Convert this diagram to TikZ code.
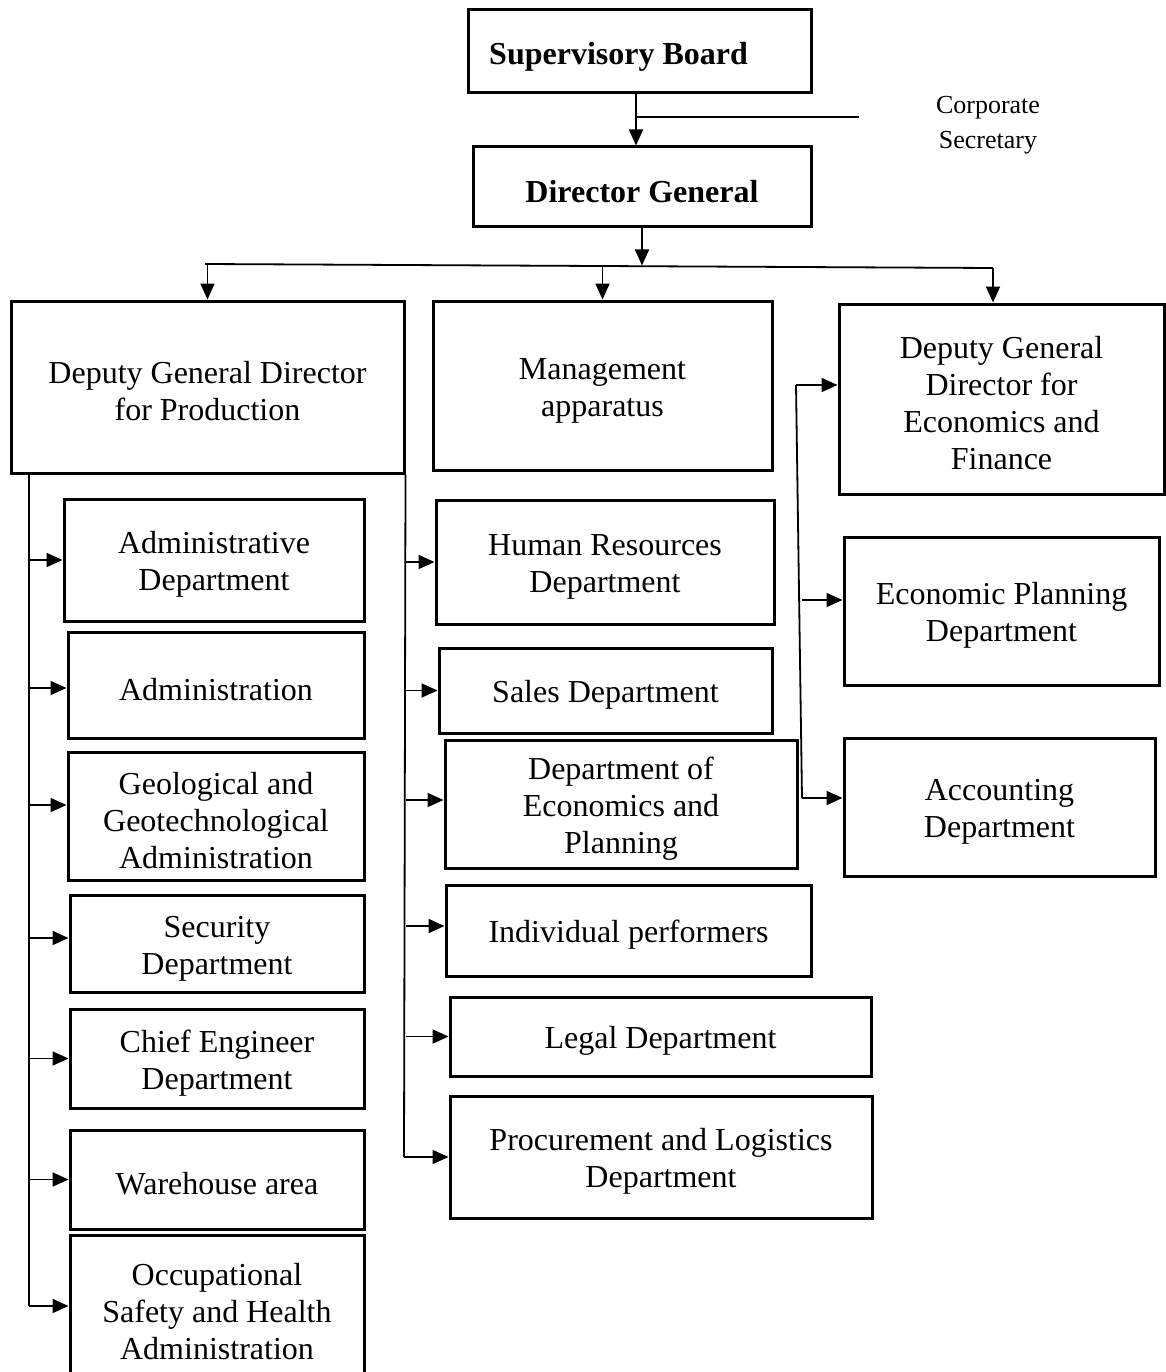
\documentclass[tikz,border=0pt]{standalone}
\usepackage{fontspec}
\setmainfont{Liberation Serif}
\usetikzlibrary{arrows.meta}
\newcommand{\fl}{\rule{0pt}{31pt}}
\begin{document}
\begin{tikzpicture}[x=1pt,y=-1pt,
  box/.style={draw, line width=3pt, align=center, inner sep=0pt, font=\fontsize{32}{37}\selectfont},
  sz/.style n args={2}{minimum width=#1pt, minimum height=#2pt},
  boldtxt/.style={font=\bfseries\fontsize{32}{37}\selectfont, inner sep=0pt},
  conn/.style={line width=1.8pt},
  arr/.style={conn, -{Triangle[length=16pt,width=14pt]}},
  small/.style={font=\fontsize{26}{35}\selectfont, align=center, inner sep=0pt}
]
\useasboundingbox (0,0) rectangle (1166,1372);

% top
\node[box, sz={343}{83}] (sb) at (639.5,51.5) {};
\node[boldtxt, anchor=west] (sbt) at (489,57) {Supervisory Board};
\node[box, sz={338}{80}, font=\bfseries\fontsize{32}{37}\selectfont] (dg) at (642,187) {\fl Director General};
\node[small] (csec) at (988,125) {Corporate\\Secretary};

% second level
\node[box, sz={393}{172}] (dgp) at (207.5,387) {\fl Deputy General Director\\for Production};
\node[box, sz={339}{169}] (mgmt) at (602.5,385.5) {\fl Management\\apparatus};
\node[box, sz={325}{190}] (dge) at (1001.5,399) {\fl Deputy General\\Director for\\Economics and\\Finance};

% left column
\node[box, sz={300}{122}] (adm) at (214,560) {\fl Administrative\\Department};
\node[box, sz={296}{106}] (admn) at (216,685) {\fl Administration};
\node[box, sz={296}{128}] (geo) at (216,816) {\fl Geological and\\Geotechnological\\Administration};
\node[box, sz={294}{97}] (sec) at (217,943.5) {\fl Security\\Department};
\node[box, sz={294}{99}] (che) at (217,1058.5) {\fl Chief Engineer\\Department};
\node[box, sz={294}{99}] (wh) at (217,1179.5) {\fl Warehouse area};
\node[box, sz={294}{145}] (osh) at (217,1307.5) {\fl Occupational\\Safety and Health\\Administration};

% middle column
\node[box, sz={338}{124}] (hr) at (605,562) {\fl Human Resources\\Department};
\node[box, sz={333}{85}] (sales) at (605.5,690.5) {\fl Sales Department};
\node[box, sz={352}{128}] (dep) at (621,804) {\fl Department of\\Economics and\\Planning};
\node[box, sz={365}{91}] (ind) at (628.5,930.5) {\fl Individual performers};
\node[box, sz={421}{79}] (legal) at (660.5,1036.5) {\fl Legal Department};
\node[box, sz={422}{122}] (proc) at (661,1157) {\fl Procurement and Logistics\\Department};

% right column
\node[box, sz={315}{148}] (ep) at (1001.5,611) {\fl Economic Planning\\Department};
\node[box, sz={311}{138}] (acc) at (999.5,807) {\fl Accounting\\Department};

% top connectors
\draw[arr] ([xshift=-3.5pt]sb.south) -- ([xshift=-6pt]dg.north);
\coordinate (csStart) at (636,117);
\coordinate (csEnd) at (859,117);
\draw[conn] (csStart) -- (csEnd);

\coordinate (busL) at (205,264);
\coordinate (busM) at (642,265.5);
\coordinate (busR) at (993,268);
\draw[conn] (busL) -- (busR);
\draw[arr] (dg.south) -- (busM);
\draw[arr] (dgp.north |- busL) -- (dgp.north);
\draw[arr] (mgmt.north |- busM) -- (mgmt.north);
\draw[arr] (busR) -- (busR |- dge.north);

% left branch
\coordinate (lvTop) at (29,473);
\coordinate (lvBot) at (29,1306);
\draw[conn] (lvTop) -- (lvBot);
\draw[arr] (adm.west -| lvTop) -- (adm.west);
\draw[arr] ([yshift=-3pt]admn.west -| lvTop) -- ([yshift=-3pt]admn.west);
\draw[arr] ([yshift=11pt]geo.west -| lvTop) -- ([yshift=11pt]geo.west);
\draw[arr] ([yshift=5.5pt]sec.west -| lvTop) -- ([yshift=5.5pt]sec.west);
\draw[arr] (che.west -| lvTop) -- (che.west);
\draw[arr] (wh.west -| lvTop) -- (wh.west);
\draw[arr] (lvBot) -- (lvBot -| osh.west);

% middle branch
\coordinate (mvTop) at (dgp.south east);
\coordinate (mvBot) at (404,1157);
\draw[conn] (mvTop) -- (mvBot);
\draw[arr] (hr.west -| mvTop) -- (hr.west);
\draw[arr] (sales.west -| mvTop) -- (sales.west);
\draw[arr] ([yshift=4pt]dep.west -| mvTop) -- ([yshift=4pt]dep.west);
\draw[arr] ([yshift=4.5pt]ind.west -| mvTop) -- ([yshift=4.5pt]ind.west);
\draw[arr] (legal.west -| mvTop) -- (legal.west);
\draw[arr] (mvBot) -- (mvBot -| proc.west);

% right branch
\coordinate (rvTop) at (796,385);
\coordinate (rvEP) at (802,600);
\coordinate (rvBot) at (802,798);
\draw[conn] (rvTop) -- (rvBot);
\draw[arr] (rvTop) -- (rvTop -| dge.west);
\draw[arr] (rvEP) -- (rvEP -| ep.west);
\draw[arr] (rvBot) -- (rvBot -| acc.west);
\end{tikzpicture}
\end{document}
